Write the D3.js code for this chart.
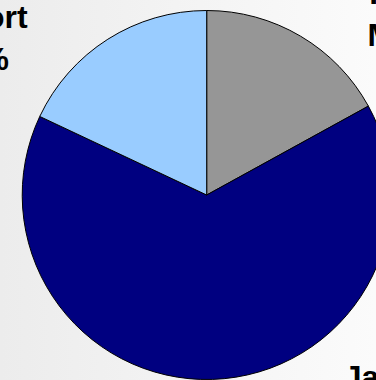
<!DOCTYPE html>
<html>
<head>
<meta charset="utf-8">
<script src="https://cdn.jsdelivr.net/npm/d3@7/dist/d3.min.js"></script>
<style>
  html, body { margin: 0; padding: 0; overflow: hidden; }
  svg { display: block; }
</style>
</head>
<body>
<svg id="chart" width="376" height="380"></svg>
<script>
// Market share by destination (percent)
const categories = ["Import\nMarket", "Japan", "Export"];
const shares = [17, 65, 18];
const colors = ["#969696", "#000080", "#99ccff"];

const width = 376, height = 380;
const cx = 206.7, cy = 195, radius = 184.5;

const svg = d3.select("#chart");

// soft horizontal backdrop
const defs = svg.append("defs");
const grad = defs.append("linearGradient").attr("id", "bg")
  .attr("x1", "0%").attr("y1", "0%").attr("x2", "100%").attr("y2", "0%");
grad.append("stop").attr("offset", "0%").attr("stop-color", "#ececec");
grad.append("stop").attr("offset", "100%").attr("stop-color", "#fbfbfb");
svg.append("rect").attr("width", width).attr("height", height).attr("fill", "url(#bg)");

const data = categories.map((c, i) => ({ name: c, value: shares[i], color: colors[i] }));

const pie = d3.pie().sort(null).value(d => d.value);
const arc = d3.arc().innerRadius(0).outerRadius(radius);
const arcs = pie(data);

const g = svg.append("g").attr("transform", `translate(${cx},${cy})`);
g.selectAll("path")
  .data(arcs)
  .join("path")
  .attr("d", arc)
  .attr("fill", d => d.data.color)
  .attr("stroke", "#000")
  .attr("stroke-width", 1)
  .attr("stroke-linejoin", "round");

// slice labels: name lines followed by the percentage
const labelPos = {
  "Import\nMarket": { x: 419, y: 4 },
  "Japan": { x: 390, y: 388 },
  "Export": { x: -23, y: 28 }
};
const lineGap = 41.5;

arcs.forEach(a => {
  const p = labelPos[a.data.name];
  const lines = a.data.name.split("\n").concat([a.data.value + "%"]);
  const t = svg.append("text")
    .attr("x", p.x)
    .attr("y", p.y)
    .attr("text-anchor", "middle")
    .attr("font-family", "'Liberation Sans', Arial, sans-serif")
    .attr("font-weight", "bold")
    .attr("font-size", 32)
    .attr("fill", "#000");
  lines.forEach((ln, i) => {
    t.append("tspan").attr("x", p.x).attr("y", p.y + i * lineGap).text(ln);
  });
});
</script>
</body>
</html>
